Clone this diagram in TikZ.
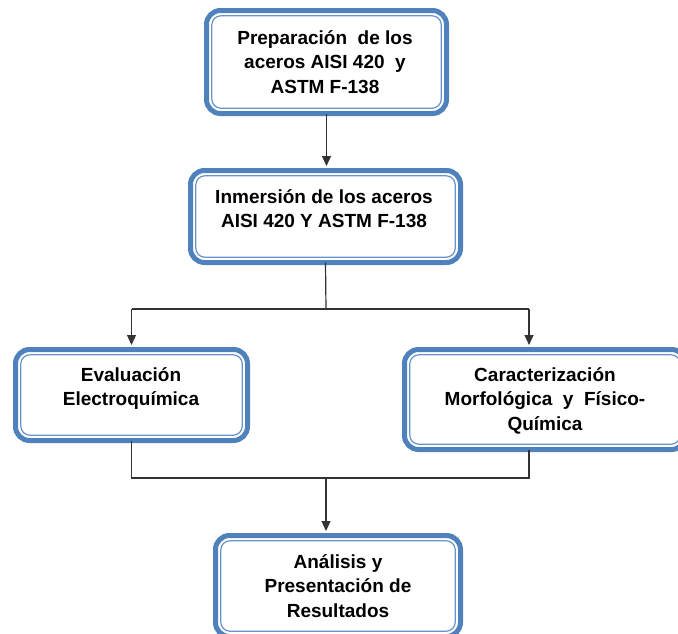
\documentclass[tikz,border=0pt]{standalone}
\usepackage{fontspec}
\setmainfont{Liberation Sans}
\usetikzlibrary{arrows.meta,calc}
\definecolor{myblue}{HTML}{4F81BD}
\tikzset{
  bx/.style={draw=myblue, line width=5pt, rounded corners=14pt, fill=white,
    minimum width=#1, inner sep=0pt, outer sep=0pt},
  innerline/.style={draw=myblue!85, line width=1.2pt, rounded corners=9pt},
  txt/.style={font=\bfseries\fontsize{19}{24.5}\selectfont, align=center, inner sep=0pt, text=black},
  conn/.style={draw=black!80, line width=1.2pt},
  arr/.style={conn, -{Triangle[width=9pt,length=10pt]}, shorten >=4.5pt}
}
\newcommand{\innerbox}[1]{\draw[innerline] ($(#1.north west)+(5.3,5.3)$) rectangle ($(#1.south east)+(-5.3,-5.3)$);}
\begin{document}
\begin{tikzpicture}[x=1pt,y=-1pt]
\useasboundingbox (0,0) rectangle (678,633);
\clip (0,0) rectangle (678,633);
% boxes
\node[bx=240pt, minimum height=103pt] (b1) at (326.5,62) {};
\innerbox{b1}
\node[bx=270pt, minimum height=92pt] (b2) at (325.5,216.5) {};
\innerbox{b2}
\node[bx=232pt, minimum height=91pt] (b3) at (131.5,395) {};
\innerbox{b3}
\node[bx=281pt, minimum height=100pt] (b4) at (545,399.5) {};
\innerbox{b4}
\node[bx=245pt, minimum height=101pt] (b5) at (338,586) {};
\innerbox{b5}
% texts
\node[txt] (t1) at (325,62) {Preparación~~de los\\aceros AISI 420~~y\\ASTM F-138};
\node[txt] (t2) at (324,208.5) {Inmersión de los aceros\\AISI 420 Y ASTM F-138};
\node[txt] (t3) at (131,388.5) {Evaluación\\Electroquímica};
\node[txt] (t4) at (545,400.5) {Caracterización\\Morfológica~~y~~Físico-\\Química};
\node[txt] (t5) at (338,586) {Análisis y\\Presentación de\\Resultados};
% connectors
\draw[arr] (b1.south) -- (b1.south |- b2.north);
\coordinate (j1) at (326,309);
\coordinate (j2) at (529,309);
\draw[conn] (b2.south) -- (j1);
\draw[conn] (b3.north |- j1) -- (j2);
\draw[arr] (b3.north |- j1) -- (b3.north);
\draw[arr] (j2) -- (j2 |- b4.north);
\coordinate (k1) at (131.5,478);
\coordinate (k2) at (529,478);
\coordinate (k0) at (326,478);
\draw[conn] (b3.south) -- (k1) -- (k2) -- (k2 |- b4.south);
\draw[arr] (k0) -- (k0 |- b5.north);
\end{tikzpicture}
\end{document}
